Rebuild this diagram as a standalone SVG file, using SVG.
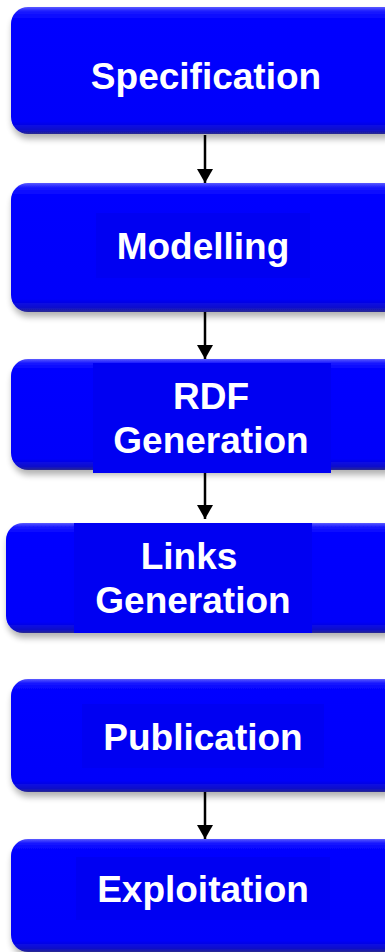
<svg xmlns="http://www.w3.org/2000/svg" width="385" height="952" viewBox="0 0 385 952">
  <defs>
    <linearGradient id="boxFill" x1="0" y1="0" x2="0" y2="1">
      <stop offset="0" stop-color="#5a5aff"/>
      <stop offset="0.035" stop-color="#1a1aff"/>
      <stop offset="0.1" stop-color="#0000ff"/>
      <stop offset="0.9" stop-color="#0000fa"/>
      <stop offset="0.97" stop-color="#1010c8"/>
      <stop offset="1" stop-color="#2a2a90"/>
    </linearGradient>
    <filter id="shadow" x="-10%" y="-10%" width="130%" height="140%">
      <feGaussianBlur in="SourceAlpha" stdDeviation="3"/>
      <feOffset dx="1" dy="5" result="b"/>
      <feComponentTransfer><feFuncA type="linear" slope="0.3"/></feComponentTransfer>
      <feMerge><feMergeNode/><feMergeNode in="SourceGraphic"/></feMerge>
    </filter>
    <!-- arrowhead drawn along +x so orient="auto" points it along the line -->
    <marker id="arrow" viewBox="0 0 14 16" refX="14" refY="8" markerWidth="14" markerHeight="16" markerUnits="userSpaceOnUse" orient="auto">
      <path d="M0,0 L14,8 L0,16 Z" fill="#000"/>
    </marker>
  </defs>
  <style>
    .box { fill: url(#boxFill); filter: url(#shadow); }
    .pad { fill: #0000f2; }
    .label { font-family: "Liberation Sans", Arial, sans-serif; font-weight: bold; font-size: 37px; fill: #ffffff; text-anchor: middle; }
    .edge { stroke: #000; stroke-width: 2.5; fill: none; marker-end: url(#arrow); }
  </style>
  <rect width="385" height="952" fill="#ffffff"/>

  <g id="connectors">
    <line class="edge" x1="205" y1="135" x2="205" y2="183"/>
    <line class="edge" x1="205" y1="312" x2="205" y2="359"/>
    <line class="edge" x1="205" y1="473" x2="205" y2="519"/>
    <line class="edge" x1="205" y1="792" x2="205" y2="839"/>
  </g>

  <g id="specification">
    <rect class="box" x="11" y="7" width="390" height="127" rx="17"/>
    <text class="label" x="206" y="89">Specification</text>
  </g>

  <g id="modelling">
    <rect class="box" x="11" y="183" width="390" height="129" rx="17"/>
    <rect class="pad" x="96" y="213" width="214" height="65"/>
    <text class="label" x="203" y="259">Modelling</text>
  </g>

  <g id="rdf-generation">
    <rect class="box" x="11" y="359" width="390" height="111" rx="17"/>
    <rect class="pad" x="93" y="363" width="238" height="110"/>
    <text class="label" x="211" y="409">RDF</text>
    <text class="label" x="211" y="453">Generation</text>
  </g>

  <g id="links-generation">
    <rect class="box" x="6" y="523" width="395" height="110" rx="17"/>
    <rect class="pad" x="74" y="523" width="238" height="110"/>
    <text class="label" x="189" y="569">Links</text>
    <text class="label" x="193" y="613">Generation</text>
  </g>

  <g id="publication">
    <rect class="box" x="11" y="679" width="390" height="113" rx="17"/>
    <rect class="pad" x="82" y="704" width="242" height="64"/>
    <text class="label" x="203" y="750">Publication</text>
  </g>

  <g id="exploitation">
    <rect class="box" x="11" y="839" width="390" height="113" rx="17"/>
    <rect class="pad" x="76" y="857" width="254" height="63"/>
    <text class="label" x="203" y="902">Exploitation</text>
  </g>
</svg>
